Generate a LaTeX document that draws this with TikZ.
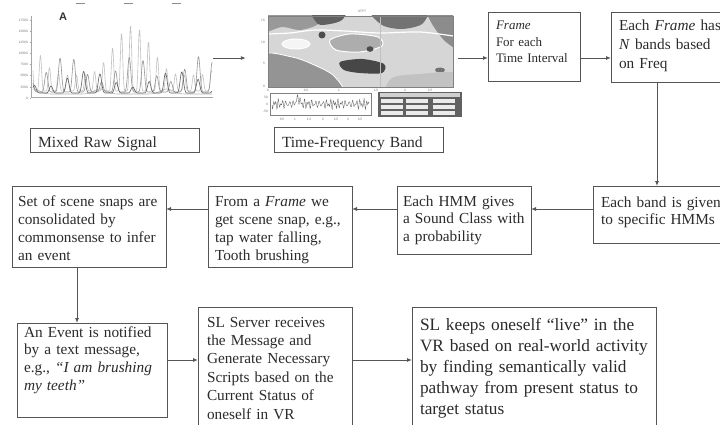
\documentclass[tikz,border=0pt]{standalone}
\usepackage{fontspec}
\setmainfont{Liberation Serif}
\newfontfamily\plotfont{Liberation Sans}
\usetikzlibrary{arrows.meta}
\definecolor{ink}{HTML}{2B2B2B}
\definecolor{rule}{HTML}{555555}
\begin{document}
\begin{tikzpicture}[x=1pt, y=-1pt,
    box/.style={draw=rule, line width=0.9pt, anchor=north west, align=left,
      inner ysep=0pt, inner xsep=7pt, outer sep=0pt, text=ink},
    arr/.style={draw=rule, line width=0.9pt, -{Latex[length=5pt,width=4pt]}},
    tick/.style={font=\plotfont\fontsize{3.2}{3.6}\selectfont, text=black!55, inner sep=0pt},
    sig/.style={line width=0.6pt, line join=round}]
    \useasboundingbox (0,0) rectangle (720,425);
    \clip (0,0) rectangle (720,425);
    \fill[white] (0,0) rectangle (720,425);

    \node[minimum width=203pt, minimum height=100pt, inner sep=0pt] (rawplot) at (111.5,58) {};
    \node[minimum width=212pt, minimum height=120pt, inner sep=0pt] (tfplot) at (352,58) {};

    \draw[black!45, line width=0.8pt] (76,3) -- (85,3) (124,3) -- (133,3) (172,3) -- (181,3);
    \node[font=\plotfont\bfseries\fontsize{11}{11}\selectfont, text=black!80] (plotA) at (63,17) {A};
    \draw[black!35, line width=0.4pt] (31,16) -- (31,97) -- (213,97);
    \foreach \yy/\lab [count=\i] in {20/17500, 31/15000, 42/12500, 53/10000, 64/7500, 75/5000, 87/2500, 98/0} {
        \draw[black!35, line width=0.3pt] (29.5,\yy) -- (31,\yy);
        \node[tick, anchor=east] (ylab\i) at (28,\yy) {\lab};
    }
    \draw[sig, black!24] plot[domain=33:212, samples=360] (\x, {91 - (16 + 50*(0.5+0.5*sin(3.1*\x+40))^2)*abs(sin(20*\x))^6});
    \draw[sig, black!30] plot[domain=33:212, samples=200] (\x, {94 - 5*abs(sin(2.7*\x))^12});
    \draw[sig, black!42] plot[domain=33:212, samples=360] (\x, {92 - (10 + 26*(0.5+0.5*sin(5.3*\x+100)))*abs(sin(13*\x+30))^8});
    \draw[sig, black!62] plot[domain=33:212, samples=360] (\x, {93 - (6 + 16*(0.5+0.5*cos(4.1*\x)))*abs(sin(11*\x+70))^10});

    \node[tick] (stft) at (362,11) {STFT};
    \begin{scope}
        \clip (268,16) rectangle (453,87);
        \fill[black!16] (268,16) rectangle (453,87);
        \fill[black!40] plot[smooth cycle] coordinates {(262,10) (320,10) (318,24) (300,30) (282,27) (262,32)};
        \fill[black!62] plot[smooth cycle] coordinates {(312,10) (345,10) (342,20) (330,24) (318,24)};
        \fill[black!70] (322,35) circle (3.5);
        \fill[black!55] plot[smooth cycle] coordinates {(372,10) (425,10) (422,24) (402,29) (382,25)};
        \fill[black!45] plot[smooth cycle] coordinates {(428,10) (460,10) (460,48) (446,42) (436,30) (430,20)};
        \draw[white, line width=1.2pt] plot[smooth] coordinates {(268,34) (290,33) (315,30) (345,31) (380,33) (420,32) (453,36)};
        \filldraw[fill=black!32, draw=white, line width=1pt] plot[smooth cycle] coordinates {(330,40) (350,34) (378,37) (382,46) (360,52) (336,50)};
        \fill[black!70] (370,49) ellipse (3.5 and 2.8);
        \filldraw[fill=black!4, draw=white, line width=1pt] (296,44) ellipse (14 and 5);
        \filldraw[fill=black!42, draw=white, line width=0.8pt] plot[smooth cycle] coordinates {(262,55) (292,57) (312,64) (334,76) (340,95) (262,95)};
        \fill[black!72] plot[smooth cycle] coordinates {(340,62) (362,59) (384,64) (382,73) (360,73) (344,70)};
        \fill[black!55] (440,70) ellipse (5 and 2.5);
        \fill[black!24] plot[smooth cycle] coordinates {(392,78) (420,74) (460,73) (460,95) (390,95)};
        \draw[black!25, line width=0.3pt] (380,16) -- (380,87);
    \end{scope}
    \draw[black!50, line width=0.5pt] (268,16) rectangle (453,87);
    \foreach \yy/\lab [count=\i] in {20/15, 42/10, 63/5, 86/0}
        \node[tick, anchor=east] (tfy\i) at (265,\yy) {\lab};
    \foreach \xx/\lab [count=\i] in {268/0, 306/0.5, 339/1, 376/1.5, 405/2, 430/2.5}
        \node[tick] (tfx\i) at (\xx,90) {\lab};

    \draw[black!50, line width=0.4pt] (270,93) rectangle (371,115);
    \draw[black!62, line width=0.35pt] plot[domain=0:97, samples=220] ({272+\x}, {104 + 2.5*sin(97*\x) + 2*sin(151*\x+30) + 1.2*sin(163*\x) - 6*max(0,1-abs(\x-26)/4)});
    \foreach \yy/\lab [count=\i] in {97/50, 104/0, 111/-50}
        \node[tick, anchor=east] (suby\i) at (268,\yy) {\lab};
    \foreach \xx/\lab [count=\i] in {282/0.5, 295/1, 309/1.5, 323/2, 336/2.5, 348/3, 360/3.5}
        \node[tick] (subx\i) at (\xx,119) {\lab};

    \fill[black!62] (378,92) rectangle (462,117);
    \fill[black!18] (380,93.5) rectangle (460,97);
    \foreach \yy in {99,105,111}
        \foreach \xx in {381,406,433}
            \fill[black!8] (\xx,\yy) rectangle ++(22,4);

    \node[box, font=\fontsize{15.5}{18}\selectfont, inner xsep=8pt, text width=153pt, text height=19pt, text depth=5pt] (rawlabel) at (30,128) {Mixed Raw Signal};
    \node[box, font=\fontsize{15.5}{18}\selectfont, inner xsep=8pt, text width=153pt, text height=20pt, text depth=5pt] (tflabel) at (274,127) {Time-Frequency Band};
    \node[box, font=\fontsize{13}{16.2}\selectfont, inner xsep=8pt, text width=76pt, text height=18pt, text depth=51pt] (frame) at (488,12) {\textit{Frame}\\For each\\Time Interval};
    \node[box, font=\fontsize{15.3}{18.7}\selectfont, inner xsep=8pt, text width=113pt, text height=19pt, text depth=51pt] (eachframe) at (611,12) {Each \textit{Frame} has\\\textit{N} bands based\\on Freq};
    \node[box, font=\fontsize{15.3}{17.5}\selectfont, inner xsep=8pt, text width=131pt, text height=21pt, text depth=36pt] (eachband) at (593,186) {Each band is given\\to specific HMMs};
    \node[box, font=\fontsize{15.3}{17.5}\selectfont, inner xsep=6pt, text width=122pt, text height=20pt, text depth=48pt] (eachhmm) at (397,186) {Each HMM gives\\a Sound Class with\\a probability};
    \node[box, font=\fontsize{15.3}{18}\selectfont, text width=130pt, text height=20pt, text depth=61pt] (fromframe) at (208,186) {From a \textit{Frame} we\\get scene snap, e.g.,\\tap water falling,\\Tooth brushing};
    \node[box, font=\fontsize{15.3}{18}\selectfont, inner xsep=6pt, text width=142pt, text height=20pt, text depth=61pt] (setsnaps) at (12,186) {Set of scene snaps are\\consolidated by\\commonsense to infer\\an event};
    \node[box, font=\fontsize{15.3}{17.7}\selectfont, text width=136pt, text height=14pt, text depth=80pt] (anevent) at (17,323) {An Event is notified\\by a text message,\\e.g., \textit{``I am brushing}\\\textit{my teeth''}};
    \node[box, font=\fontsize{15.3}{18.4}\selectfont, inner xsep=9pt, text width=136pt, text height=20pt, text depth=118pt] (slserver) at (198,307) {SL Server receives\\the Message and\\Generate Necessary\\Scripts based on the\\Current Status of\\oneself in VR};
    \node[box, font=\fontsize{17.3}{21}\selectfont, inner xsep=8pt, text width=228pt, text height=23pt, text depth=115pt] (slkeeps) at (412,307) {SL keeps oneself ``live'' in the\\VR based on real-world activity\\by finding semantically valid\\pathway from present status to\\target status};

    \coordinate (downx) at (657,0);
    \coordinate (midrow) at (0,209);
    \coordinate (leftx) at (77,0);
    \coordinate (lowrow) at (0,360);

    \draw[arr] (rawplot.east) -- (tfplot.west);
    \draw[arr] (tfplot.east) -- (tfplot.east -| frame.west);
    \draw[arr] (frame.east |- tfplot) -- (eachframe.west |- tfplot);
    \draw[arr] (eachframe.south -| downx) -- (eachband.north -| downx);
    \draw[arr] (eachband.west |- midrow) -- (eachhmm.east |- midrow);
    \draw[arr] (eachhmm.west |- midrow) -- (fromframe.east |- midrow);
    \draw[arr] (fromframe.west |- midrow) -- (setsnaps.east |- midrow);
    \draw[arr] (setsnaps.south -| leftx) -- (anevent.north -| leftx);
    \draw[arr] (anevent.east |- lowrow) -- (slserver.west |- lowrow);
    \draw[arr] (slserver.east |- lowrow) -- (slkeeps.west |- lowrow);
\end{tikzpicture}
\end{document}
